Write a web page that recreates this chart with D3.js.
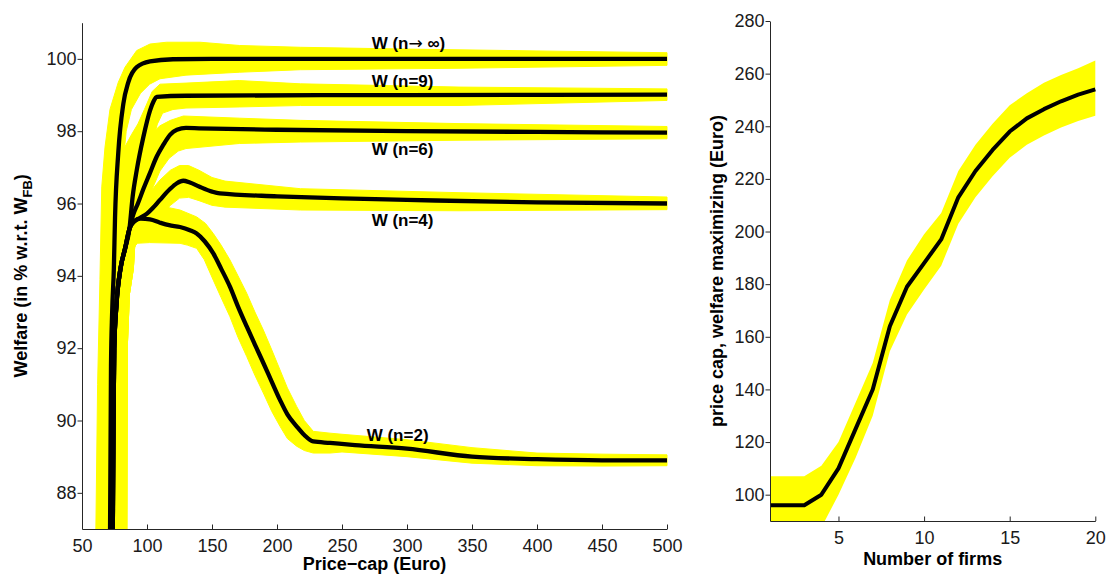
<!DOCTYPE html>
<html>
<head>
<meta charset="utf-8">
<script src="https://cdn.jsdelivr.net/npm/d3@7"></script>
<style>
  body { margin: 0; background: #fff; }
  text { font-family: "Liberation Sans", Arial, Helvetica, sans-serif; }
</style>
</head>
<body>
<svg id="chart" width="1106" height="574"></svg>
<script>
// ---- left panel: welfare vs price cap ----
const capTicks = [50, 100, 150, 200, 250, 300, 350, 400, 450, 500];
const welfareTicks = [88, 90, 92, 94, 96, 98, 100];

// common steep part shared by the finite-n curves
const trunkX = [73.6, 74.2, 74.8, 76.5, 79.6, 83.1, 86.5];
const trunkW = [86.5, 90, 92, 93.2, 94.2, 94.75, 95.3];
const trunkLoX = [84.4, 84.8, 86.5, 89.5, 90.5, 92];
const trunkLoW = [86.5, 92, 93.5, 94.2, 94.8, 94.9];

// n -> infinity
const infX = [71.5, 72.3, 73.2, 74.5, 75.4, 77.9, 81.8, 85.6, 92.1, 102.3, 120, 150, 500];
const infW = [86.5, 91.5, 93.0, 94.2, 95.6, 97.4, 98.76, 99.35, 99.77, 99.93, 99.99, 100, 100];
const infHiX = [60.5, 62, 63.8, 65.2, 67.7, 71.5, 77.9, 83.1, 92.1, 102.3, 115, 140.8, 171, 218, 300, 400, 500];
const infHiW = [86.5, 91, 93.9, 96.46, 97.56, 98.6, 99.35, 99.77, 100.23, 100.41, 100.46, 100.46, 100.37, 100.32, 100.27, 100.22, 100.17];
const infLoX = [75, 76, 77.5, 80, 84, 88, 95, 102, 110, 130, 171, 218, 340, 500];
const infLoW = [86.5, 90, 94, 96.5, 98.0, 98.6, 99.05, 99.3, 99.45, 99.55, 99.63, 99.7, 99.74, 99.82];

// n = 9
const n9X = trunkX.concat([89, 92.1, 97.2, 102.3, 105, 107.5, 130, 300, 500]);
const n9W = trunkW.concat([96.2, 96.92, 97.84, 98.57, 98.82, 98.95, 98.98, 99.0, 99.01]);
const n9HiX = [64, 66, 70, 76, 82, 88, 93, 98, 104, 110, 130, 171, 218, 340, 500];
const n9HiW = [86.5, 93, 95.8, 96.8, 97.5, 97.9, 98.2, 98.6, 99.1, 99.3, 99.33, 99.4, 99.31, 99.22, 99.17];
const n9LoX = trunkLoX.concat([94, 97, 100, 104, 108, 112, 120, 130, 171, 218, 340, 500]);
const n9LoW = trunkLoW.concat([95.6, 96.3, 97.0, 97.7, 98.2, 98.5, 98.6, 98.64, 98.67, 98.71, 98.71, 98.85]);

// n = 6
const n6X = trunkX.concat([89.5, 93, 97.2, 102, 107.5, 112.5, 117.7, 123, 130, 140, 200, 300, 400, 500]);
const n6W = trunkW.concat([95.7, 96.0, 96.4, 96.82, 97.3, 97.62, 97.9, 98.04, 98.09, 98.08, 98.04, 98.0, 97.98, 97.96]);
const n6HiX = [63, 66, 70, 76, 82, 90, 97, 104, 110, 118, 128, 171, 218, 340, 500];
const n6HiW = [86.5, 93, 95.5, 96.3, 96.9, 97.3, 97.65, 97.95, 98.15, 98.3, 98.42, 98.36, 98.3, 98.21, 98.13];
const n6LoX = trunkLoX.concat([93, 98, 104, 110, 117, 124, 130, 171, 218, 340, 500]);
const n6LoW = trunkLoW.concat([95.3, 95.85, 96.4, 96.9, 97.25, 97.45, 97.52, 97.66, 97.7, 97.75, 97.79]);

// n = 4
const n4X = trunkX.concat([90, 94.6, 100, 104.6, 110, 117.7, 123, 127.9, 133, 140, 150, 156, 200, 250, 300, 400, 500]);
const n4W = trunkW.concat([95.5, 95.6, 95.72, 95.88, 96.1, 96.4, 96.56, 96.63, 96.58, 96.47, 96.33, 96.28, 96.2, 96.14, 96.1, 96.03, 96.0]);
const n4HiX = [63, 66, 72, 80, 88, 95, 102, 110, 118, 125, 132, 140, 150, 160, 218, 340, 500];
const n4HiW = [86.5, 93, 95.2, 95.7, 95.9, 96.0, 96.3, 96.65, 96.92, 97.05, 97.05, 96.92, 96.72, 96.62, 96.41, 96.3, 96.18];
const n4LoX = trunkLoX.concat([98, 104, 110, 118, 125, 132, 140, 150, 160, 218, 340, 500]);
const n4LoW = trunkLoW.concat([95.15, 95.4, 95.65, 95.95, 96.15, 96.17, 96.08, 95.95, 95.9, 95.82, 95.8, 95.83]);

// n = 2
const n2X = trunkX.concat([90, 95, 102.3, 110, 117, 125.4, 133, 138.2, 144.5, 151, 157, 163.8, 170, 176.7, 183, 189.5, 196, 202.3, 208, 215.1, 221, 227.9, 240.8, 260, 300, 350, 400, 450, 500]);
const n2W = trunkW.concat([95.5, 95.58, 95.56, 95.47, 95.4, 95.35, 95.26, 95.17, 94.95, 94.62, 94.2, 93.7, 93.15, 92.6, 92.1, 91.59, 91.07, 90.57, 90.17, 89.84, 89.6, 89.42, 89.38, 89.32, 89.22, 89.0, 88.93, 88.9, 88.9]);
const n2HiX = [62, 66, 72, 80, 90, 100, 115, 125.4, 138.2, 145, 151, 157, 163.8, 170, 176.7, 183, 189.5, 196, 202.3, 208, 215.1, 221, 227.9, 240.8, 250, 300, 350, 400, 450, 500];
const n2HiW = [86.5, 93, 95, 95.6, 95.9, 95.95, 95.9, 95.82, 95.63, 95.45, 95.17, 94.85, 94.44, 94.0, 93.52, 93.0, 92.5, 91.95, 91.4, 90.9, 90.39, 90.0, 89.7, 89.65, 89.62, 89.47, 89.25, 89.1, 89.07, 89.05];
const n2LoX = trunkLoX.concat([102, 125.4, 131, 138.2, 144, 151, 157, 163.8, 170, 176.7, 183, 189.5, 196, 202.3, 208, 215.1, 221, 227.9, 240.8, 250, 300, 350, 400, 450, 500]);
const n2LoW = trunkLoW.concat([94.92, 94.9, 94.85, 94.76, 94.45, 93.88, 93.4, 92.87, 92.3, 91.77, 91.25, 90.76, 90.25, 89.84, 89.5, 89.29, 89.17, 89.1, 89.1, 89.13, 89.0, 88.82, 88.75, 88.74, 88.75]);

// ---- right panel: welfare maximizing cap vs number of firms ----
const firms = [1, 2, 3, 4, 5, 6, 7, 8, 9, 10, 11, 12, 13, 14, 15, 16, 17, 18, 19, 20];
const capOpt = [96, 96, 96, 100, 110, 125, 140, 164, 179, 188, 197, 213, 223, 231, 238, 243, 246.5, 249.5, 252, 254];
const capHi = [107, 107, 107, 111, 120, 135, 150, 174, 189, 199, 207, 223, 233, 241, 248, 252.5, 256.5, 259.5, 262, 265];
const capLo = [85, 85, 85, 87.5, 100, 114, 130, 154.5, 168.5, 178, 187, 203, 213, 221, 228, 233, 236.5, 239.5, 242, 244];
const firmTicks = [5, 10, 15, 20];
const capTicksR = [100, 120, 140, 160, 180, 200, 220, 240, 260, 280];

const svg = d3.select("#chart");
const YEL = "#ffff00";
const AX = "#262626";
const pts = (xs, ys) => xs.map((v, i) => [v, ys[i]]);

// scales
const x1 = d3.scaleLinear().domain([50, 500]).range([82, 667]);
const y1 = d3.scaleLinear().domain([87, 101]).range([529, 22.7]);
const x2 = d3.scaleLinear().domain([1, 20]).range([770, 1095.3]);
const y2 = d3.scaleLinear().domain([90, 280]).range([521, 21]);

const defs = svg.append("defs");
defs.append("clipPath").attr("id", "clipL").append("rect")
    .attr("x", 82).attr("y", 0).attr("width", 667 - 82 + 4).attr("height", 529);
defs.append("clipPath").attr("id", "clipR").append("rect")
    .attr("x", 770).attr("y", 0).attr("width", 1106 - 770).attr("height", 521);

const curves = [
    { label: ["W (n", "\u2192", " \u221e)"], lx: 272.8, ly: 100.27, c: pts(infX, infW), hi: pts(infHiX, infHiW), lo: pts(infLoX, infLoW) },
    { label: ["W (n=9)"], lx: 272.8, ly: 99.23, c: pts(n9X, n9W), hi: pts(n9HiX, n9HiW), lo: pts(n9LoX, n9LoW) },
    { label: ["W (n=6)"], lx: 272.8, ly: 97.34, c: pts(n6X, n6W), hi: pts(n6HiX, n6HiW), lo: pts(n6LoX, n6LoW) },
    { label: ["W (n=4)"], lx: 272.8, ly: 95.38, c: pts(n4X, n4W), hi: pts(n4HiX, n4HiW), lo: pts(n4LoX, n4LoW) },
    { label: ["W (n=2)"], lx: 269, ly: 89.44, c: pts(n2X, n2W), hi: pts(n2HiX, n2HiW), lo: pts(n2LoX, n2LoW) }
];

const bandLine = d3.line().x(d => x1(d[0])).y(d => y1(d[1]));
const curveLine = d3.line().x(d => x1(d[0])).y(d => y1(d[1])).curve(d3.curveMonotoneX);
const gL = svg.append("g").attr("clip-path", "url(#clipL)");

// yellow bands first, then all black curves on top
gL.selectAll("path.band").data(curves).join("path")
    .attr("class", "band")
    .attr("d", d => bandLine(d.hi.concat(d.lo.slice().reverse())) + "Z")
    .attr("fill", YEL).attr("stroke", YEL).attr("stroke-width", 1).attr("stroke-linejoin", "round");

gL.selectAll("path.curve").data(curves).join("path")
    .attr("class", "curve")
    .attr("d", d => curveLine(d.c))
    .attr("fill", "none").attr("stroke", "#000").attr("stroke-width", 4.3)
    .attr("stroke-linejoin", "round");

const lab = svg.selectAll("text.clabel").data(curves).join("text")
    .attr("class", "clabel")
    .attr("x", d => x1(d.lx)).attr("y", d => y1(d.ly))
    .attr("font-size", 17).attr("font-weight", "bold").attr("fill", "#000");
lab.selectAll("tspan").data(d => d.label).join("tspan")
    .attr("font-family", t => t === "\u2192" ? "DejaVu Sans" : null)
    .attr("font-weight", t => t === "\u2192" ? "normal" : null)
    .text(t => t);

// axes
function styleAxis(g) {
    g.attr("font-family", null).attr("font-size", null);
    g.select(".domain").attr("stroke", AX).attr("stroke-width", 1);
    g.selectAll(".tick line").attr("stroke", AX).attr("stroke-width", 1);
    g.selectAll(".tick text").attr("fill", "#1a1a1a").style("font-size", "18px");
}

svg.append("g").attr("transform", "translate(0,529)")
    .call(d3.axisBottom(x1).tickValues(capTicks).tickSizeInner(-4.5).tickSizeOuter(0).tickPadding(10))
    .call(styleAxis);
svg.append("g").attr("transform", "translate(82,0)")
    .call(d3.axisLeft(y1).tickValues(welfareTicks).tickSizeInner(4.5).tickSizeOuter(0).tickPadding(1))
    .call(styleAxis);

// left titles
svg.append("text")
    .attr("x", x1(275)).attr("y", 570)
    .attr("text-anchor", "middle").attr("font-size", 18).attr("font-weight", "bold").attr("fill", "#000")
    .text("Price\u2212cap (Euro)");

const yt = svg.append("text")
    .attr("transform", `translate(27,${y1(94)}) rotate(-90)`)
    .attr("text-anchor", "middle").attr("font-size", 18).attr("font-weight", "bold").attr("fill", "#000");
yt.append("tspan").text("Welfare (in % w.r.t. W");
yt.append("tspan").attr("font-size", 13).attr("dy", 5).text("FB");
yt.append("tspan").attr("dy", -5).text(")");

// ---- right panel ----
const gR = svg.append("g").attr("clip-path", "url(#clipR)");
const area2 = d3.area().x((d, i) => x2(firms[i])).y0((d, i) => y2(capLo[i])).y1((d, i) => y2(capHi[i]));
gR.append("path").datum(firms).attr("d", area2).attr("fill", YEL);
gR.append("path").datum(firms)
    .attr("d", d3.line().x(d => x2(d)).y((d, i) => y2(capOpt[i])))
    .attr("fill", "none").attr("stroke", "#000").attr("stroke-width", 4).attr("stroke-linejoin", "round");

svg.append("g").attr("transform", "translate(0,521)")
    .call(d3.axisBottom(x2).tickValues(firmTicks).tickSizeInner(-4.5).tickSizeOuter(0).tickPadding(10))
    .call(styleAxis);
svg.append("g").attr("transform", "translate(770,0)")
    .call(d3.axisLeft(y2).tickValues(capTicksR).tickSizeInner(4.5).tickSizeOuter(0).tickPadding(1))
    .call(styleAxis);

svg.append("text")
    .attr("x", x2(10.5)).attr("y", 564.6)
    .attr("text-anchor", "middle").attr("font-size", 18).attr("font-weight", "bold").attr("fill", "#000")
    .text("Number of firms");
svg.append("text")
    .attr("transform", `translate(723,${y2(185)}) rotate(-90)`)
    .attr("text-anchor", "middle").attr("font-size", 18).attr("font-weight", "bold").attr("fill", "#000")
    .text("price cap, welfare maximizing (Euro)");
</script>
</body>
</html>
